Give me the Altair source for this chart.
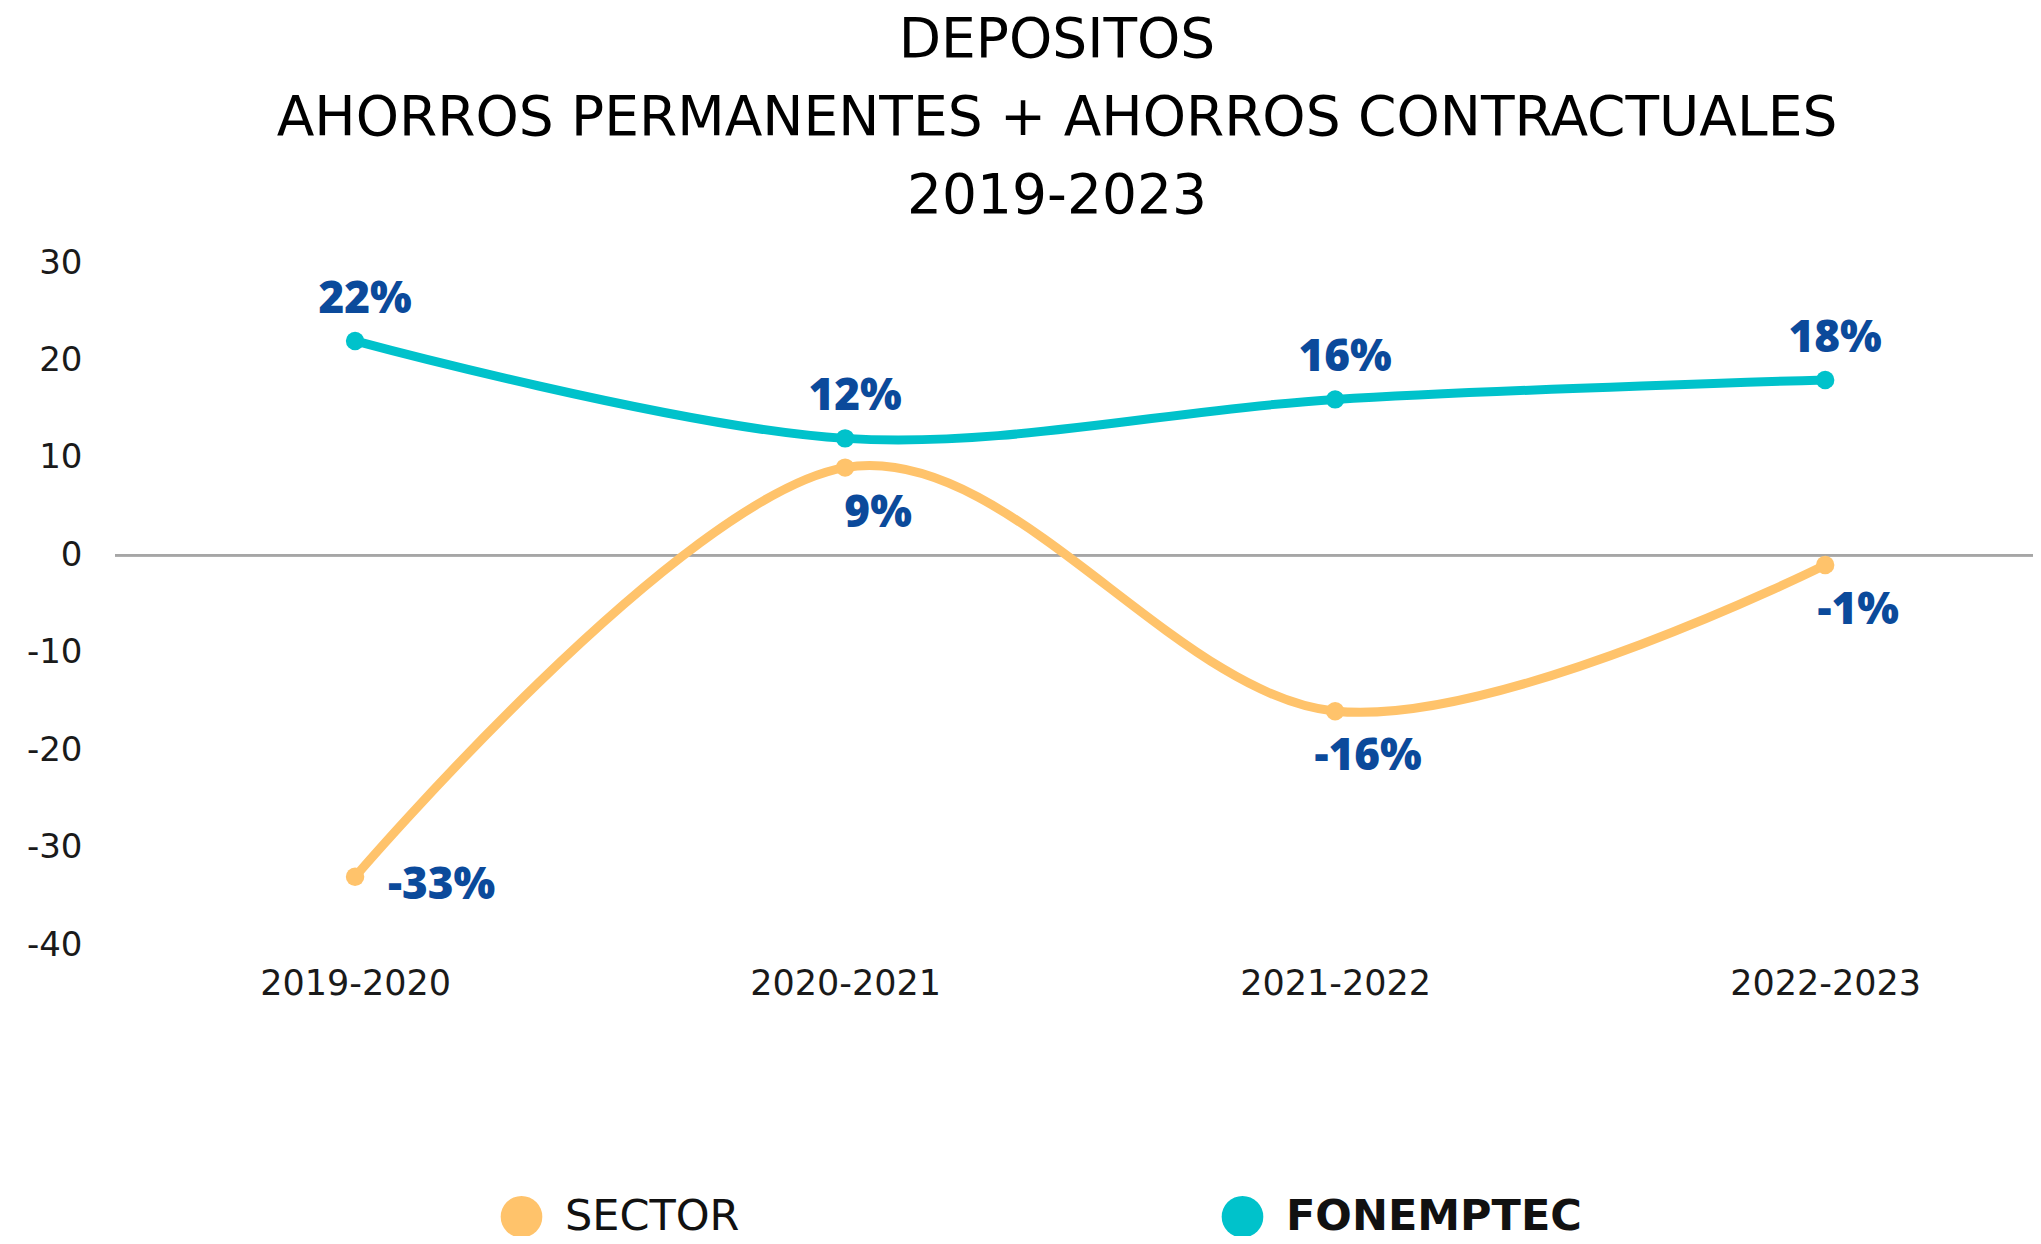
import altair as alt
import pandas as pd

periods = ["2019-2020", "2020-2021", "2021-2022", "2022-2023"]
sector = [-33, 9, -16, -1]
fonemptec = [22, 12, 16, 18]
series_names = ["SECTOR", "FONEMPTEC"]
series_colors = ["#ffc36b", "#00c2cb"]
title_lines = ["DEPOSITOS", "AHORROS PERMANENTES + AHORROS CONTRACTUALES", "2019-2023"]

rows = []
for p, v in zip(periods, sector):
    rows.append({"periodo": p, "serie": "SECTOR", "valor": v})
for p, v in zip(periods, fonemptec):
    rows.append({"periodo": p, "serie": "FONEMPTEC", "valor": v})
df = pd.DataFrame(rows)

FONT = "DejaVu Sans"
LBLFONT = "Open Sans"
W, H = 1918, 682

x = alt.X("periodo:N", sort=periods,
          scale=alt.Scale(type="point", padding=0.457, align=0.536),
          axis=alt.Axis(title=None, labelAngle=0, labelFontSize=35, labelFont=FONT,
                        labelColor="#1a1a1a", labelPadding=21, labelLimit=500,
                        ticks=False, domain=False, grid=False))
y = alt.Y("valor:Q",
          scale=alt.Scale(domain=[-40, 30], nice=False, zero=False),
          axis=alt.Axis(title=None, values=[-40, -30, -20, -10, 0, 10, 20, 30],
                        labelExpr="'' + datum.value",
                        labelFontSize=34, labelFont=FONT, labelColor="#1a1a1a",
                        labelPadding=33, ticks=False, domain=False,
                        gridColor="#d9d9d9", gridWidth=2))
color = alt.Color("serie:N",
                  scale=alt.Scale(domain=series_names, range=series_colors),
                  legend=alt.Legend(title=None, orient="none", direction="horizontal",
                                    legendX=385, legendY=932, symbolType="circle",
                                    symbolSize=1735, symbolStrokeWidth=0,
                                    labelFontSize=43, labelFont=FONT, labelColor="#111111",
                                    labelOffset=22, columnPadding=360, gridAlign="all",
                                    padding=0, labelLimit=600,
                                    labelFontWeight=alt.ExprRef(expr="datum.label == 'FONEMPTEC' ? 'bold' : 'normal'")))

base = alt.Chart(df)

zero_rule = base.mark_rule(color="#a6a6a6", strokeWidth=2).encode(y=alt.datum(0))

lines = base.mark_line(interpolate="cardinal", strokeWidth=9).encode(x=x, y=y, color=color)
points = base.mark_circle(size=340, opacity=1).encode(x=x, y=y, color=alt.Color("serie:N", scale=alt.Scale(domain=series_names, range=series_colors), legend=None))

lbl = base.transform_calculate(txt="datum.valor + '%'")
text_style = dict(font=LBLFONT, fontSize=44, fontWeight=800, color="#0b4a9b", baseline="middle")
t_fon = lbl.transform_filter("datum.serie == 'FONEMPTEC'").mark_text(dx=10, dy=-41, align="center", **text_style).encode(x=x, y=y, text="txt:N")
t_sec = lbl.transform_filter("datum.serie == 'SECTOR' && datum.periodo != '2019-2020'").mark_text(dx=33, dy=46, align="center", **text_style).encode(x=x, y=y, text="txt:N")
t_sec0 = lbl.transform_filter("datum.serie == 'SECTOR' && datum.periodo == '2019-2020'").mark_text(dx=33, dy=9, align="left", **text_style).encode(x=x, y=y, text="txt:N")

chart = alt.layer(zero_rule, lines, points, t_fon, t_sec, t_sec0).properties(
    width=W, height=H,
    title=alt.Title(text=title_lines, anchor="middle", frame="group", dx=-17,
                    font=FONT, fontSize=55, fontWeight="normal", color="#000000",
                    lineHeight=78, offset=21, limit=2000),
    autosize=alt.AutoSizeParams(type="none"),
    padding={"left": 107, "top": 255, "right": 0, "bottom": 291},
).configure(background="white").configure_view(strokeWidth=0, stroke=None)

chart.save("out.html", embed_options={"renderer": "svg", "actions": False})
